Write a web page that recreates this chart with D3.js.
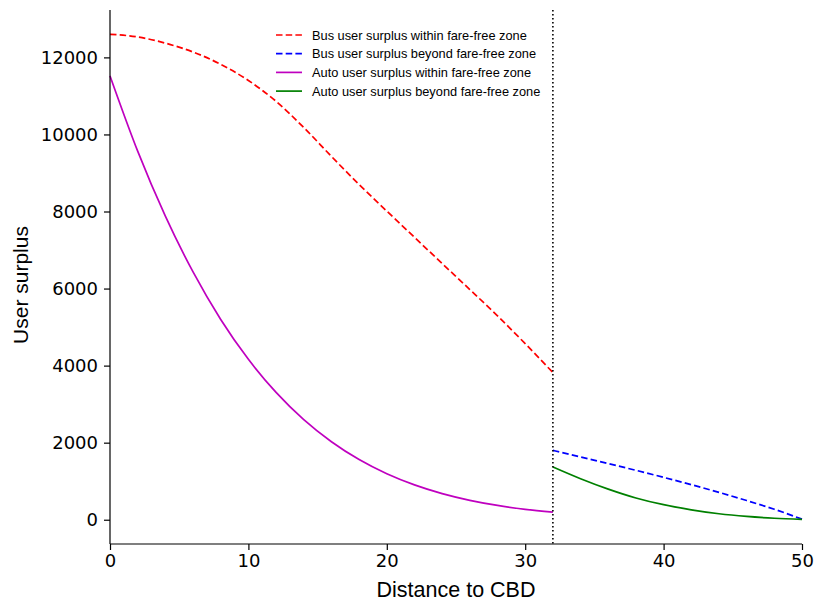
<!DOCTYPE html>
<html>
<head>
<meta charset="utf-8">
<script src="https://cdn.jsdelivr.net/npm/d3@7"></script>
<style>
  html, body { margin: 0; padding: 0; background: #fff; }
  svg { display: block; }
</style>
</head>
<body>
<svg id="chart" width="814" height="601"></svg>
<script>
// ---- data ----
const xWithin = [0, 2, 4, 6, 8, 10, 12, 14, 16, 18, 20, 22, 24, 26, 28, 30, 32];
const busWithin = [12600, 12530, 12370, 12140, 11820, 11400, 10860, 10180, 9430, 8700, 8010, 7330, 6650, 5975, 5290, 4570, 3820];
const autoWithin = [11520, 9566, 7879, 6431, 5198, 4163, 3305, 2598, 2024, 1561, 1193, 904, 678, 504, 371, 271, 196];
const xBeyond = [32, 34, 36, 38, 40, 42, 44, 46, 48, 50];
const busBeyond = [1800, 1630, 1458, 1282, 1100, 910, 710, 498, 272, 15];
const autoBeyond = [1370, 1065, 795, 565, 390, 258, 155, 85, 38, 8];
const xTicks = [0, 10, 20, 30, 40, 50];
const yTicks = [0, 2000, 4000, 6000, 8000, 10000, 12000];
const zoneBoundary = 32;
const seriesNames = [
  "Bus user surplus within fare-free zone",
  "Bus user surplus beyond fare-free zone",
  "Auto user surplus within fare-free zone",
  "Auto user surplus beyond fare-free zone"
];

(function () {
const svg = d3.select("#chart");
const mLeft = 110, mRight = 802, mTop = 10, mBottom = 544;
const x = d3.scaleLinear().domain([0, 50]).range([mLeft, mRight]);
const y = d3.scaleLinear().domain([-630, 13230]).range([mBottom, mTop]);

const series = [
  { xs: xWithin, ys: busWithin, color: "#ff0000", dash: "6.5,3.2" },
  { xs: xBeyond, ys: busBeyond, color: "#0000ff", dash: "6.5,3.2" },
  { xs: xWithin, ys: autoWithin, color: "#bf00bf", dash: null },
  { xs: xBeyond, ys: autoBeyond, color: "#008000", dash: null }
];

const line = d3.line().x(d => x(d[0])).y(d => y(d[1])).curve(d3.curveMonotoneX);

series.forEach(s => {
  const pts = s.xs.map((v, i) => [v, s.ys[i]]);
  svg.append("path")
    .attr("d", line(pts))
    .attr("fill", "none")
    .attr("stroke", s.color)
    .attr("stroke-width", 1.7)
    .attr("stroke-dasharray", s.dash);
});

// vertical dotted line
svg.append("line")
  .attr("x1", x(zoneBoundary)).attr("x2", x(zoneBoundary))
  .attr("y1", mTop).attr("y2", mBottom)
  .attr("stroke", "#000").attr("stroke-width", 1.6)
  .attr("stroke-dasharray", "1.6,2.4");

// axes
const xAxis = d3.axisBottom(x).tickValues(xTicks).tickSize(6).tickPadding(4).tickFormat(d3.format("d"));
const yAxis = d3.axisLeft(y).tickValues(yTicks).tickSize(6).tickPadding(6).tickFormat(d3.format("d"));

const gx = svg.append("g").attr("transform", `translate(0,${mBottom})`).call(xAxis);
const gy = svg.append("g").attr("transform", `translate(${mLeft},0)`).call(yAxis);

[gx, gy].forEach(g => {
  g.select(".domain").attr("stroke", "#000").attr("stroke-width", 1.2);
  g.selectAll(".tick line").attr("stroke", "#000").attr("stroke-width", 1.2);
  g.selectAll(".tick text")
    .attr("fill", "#000")
    .style("font-family", "'DejaVu Sans', sans-serif")
    .style("font-size", "18px");
});
gx.select(".domain").attr("d", `M${mLeft},0H${mRight}`);
gy.select(".domain").attr("d", `M0,${mTop}V${mBottom}`);

// axis labels
svg.append("text")
  .attr("x", (mLeft + mRight) / 2).attr("y", 597)
  .attr("text-anchor", "middle")
  .style("font-family", "'Liberation Sans', Arial, sans-serif")
  .style("font-size", "21.5px")
  .text("Distance to CBD");

svg.append("text")
  .attr("transform", `translate(28,${(mTop + mBottom) / 2 + 8}) rotate(-90)`)
  .attr("text-anchor", "middle")
  .style("font-family", "'Liberation Sans', Arial, sans-serif")
  .style("font-size", "21px")
  .text("User surplus");

// legend
const legend = svg.append("g");
const legendY0 = 35, legendStep = 18.7;
series.forEach((s, i) => {
  const yy = legendY0 + i * legendStep;
  legend.append("line")
    .attr("x1", 276).attr("x2", 302)
    .attr("y1", yy).attr("y2", yy)
    .attr("stroke", s.color).attr("stroke-width", 1.7)
    .attr("stroke-dasharray", s.dash);
  legend.append("text")
    .attr("x", 312).attr("y", yy + 4.5)
    .style("font-family", "'Liberation Sans', Arial, sans-serif")
    .style("font-size", "12.8px")
    .attr("fill", "#000")
    .text(seriesNames[i]);
});
})();
</script>
</body>
</html>
